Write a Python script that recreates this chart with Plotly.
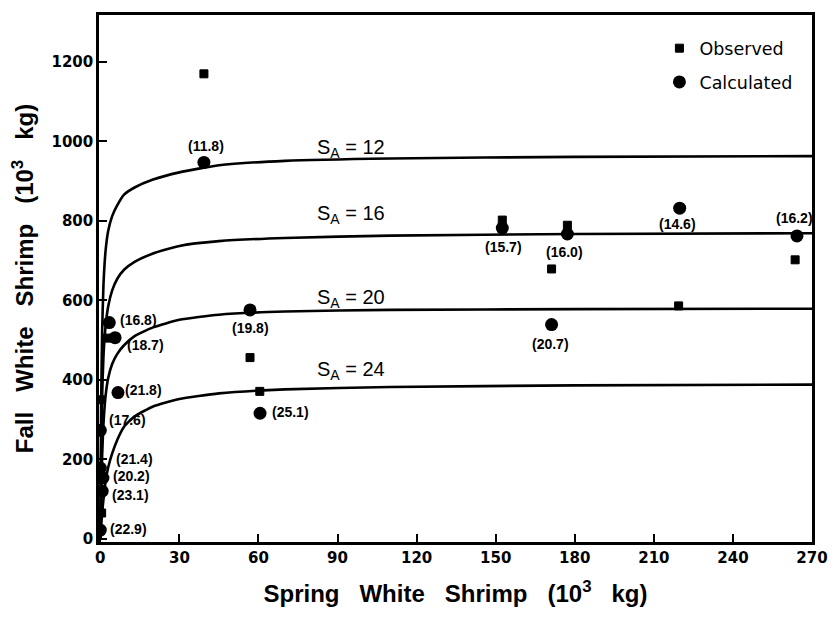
import plotly.graph_objects as go

# ---- data ----
obs_x = [39.3, 152.5, 177.2, 171.2, 263.6, 219.4, 56.8, 60.5, 2.5, 0.0, 0.5, 0.5]
obs_y = [1170, 802, 789, 679, 702, 586, 456, 371, 505, 350, 150, 65]

calc_x = [39.3, 56.8, 60.6, 152.5, 177.2, 171.2, 219.8, 264.3,
          3.4, 5.6, 6.7, 0.0, 0.0, 1.0, 0.7, 0.0]
calc_y = [947, 576, 316, 782, 767, 539, 832, 762,
          544, 506, 368, 273, 178, 153, 120, 22]
calc_lbl = ["(11.8)", "(19.8)", "(25.1)", "(15.7)", "(16.0)", "(20.7)", "(14.6)", "(16.2)",
            "(16.8)", "(18.7)", "(21.8)", "(17.6)", "(21.4)", "(20.2)", "(23.1)", "(22.9)"]

curve_x = [0, 0.3, 0.7, 1.2, 2, 3, 4.5, 6.5, 9, 13, 20, 30, 45, 70, 110, 180, 270]
SA12 = [0, 330, 524, 640, 725, 775, 812, 840, 866, 884, 904, 922, 940, 951, 957, 961, 963]
SA16 = [0, 200, 360, 460, 535, 585, 625, 655, 677, 697, 718, 737, 749, 757, 763, 767, 769]
SA20 = [0, 100, 210, 290, 360, 405, 440, 466, 487, 510, 532, 551, 564, 572, 576, 578, 579]
SA24 = [0, 30, 65, 100, 145, 180, 215, 250, 282, 308, 333, 352, 366, 376, 382, 386, 388]
curve_names = ["12", "16", "20", "24"]

x_ticks = [0, 30, 60, 90, 120, 150, 180, 210, 240, 270]
y_ticks = [0, 200, 400, 600, 800, 1000, 1200]

# ---- styling: label offsets from each calculated point, in pixels (dx, dy up) ----
label_shift = [(2, 16), (0, -18), (30, 1), (1, -19), (-3, -18), (-1, -19), (-2, -16), (-2, 18),
               (29, 3), (30, -7), (26, 3), (27, 10), (34, 9), (29, 2), (28, -4), (28, 1)]
curve_label_y = [982, 817, 604, 424]

NBSP = "\u00a0"
GAP = NBSP * 3

fig = go.Figure()

for ys in (SA12, SA16, SA20, SA24):
    fig.add_trace(go.Scatter(x=curve_x, y=ys, mode="lines", showlegend=False,
                             line=dict(color="black", width=2.6, shape="spline", smoothing=0.5),
                             hoverinfo="skip"))

fig.add_trace(go.Scatter(x=calc_x, y=calc_y, mode="markers", name="Calculated",
                         legendgroup="calc", legendrank=2,
                         marker=dict(symbol="circle", size=13, color="black")))
fig.add_trace(go.Scatter(x=obs_x, y=obs_y, mode="markers", name="Observed",
                         legendgroup="obs", legendrank=1,
                         marker=dict(symbol="square", size=8, color="black",
                                     line=dict(color="black", width=1))))

for xv, yv, t, (dx, dy) in zip(calc_x, calc_y, calc_lbl, label_shift):
    fig.add_annotation(x=xv, y=yv, text=t, showarrow=False, xshift=dx, yshift=dy,
                       xanchor="center", yanchor="middle",
                       font=dict(family="Liberation Sans", size=14, color="black", weight="bold"))

for name, yy in zip(curve_names, curve_label_y):
    fig.add_annotation(x=81.5, y=yy, xanchor="left", yanchor="middle", showarrow=False,
                       text="S<sub>A</sub> = " + name,
                       font=dict(family="Liberation Sans", size=20, color="black"))

axis_common = dict(showline=True, linecolor="black", linewidth=2.5, mirror=True,
                   ticks="inside", ticklen=8, tickwidth=2, tickcolor="black",
                   showgrid=False, zeroline=False,
                   tickfont=dict(family="DejaVu Sans", size=15, color="black", weight="bold"))

fig.update_xaxes(range=[-0.5, 270], tickvals=x_ticks, **axis_common,
                 title=dict(text=("Spring" + GAP + "White" + GAP + "Shrimp" + GAP +
                                  "(10<sup>3</sup>" + GAP + "kg)"),
                            font=dict(family="Liberation Sans", size=24, color="black", weight="bold"),
                            standoff=20))
fig.update_yaxes(range=[-8, 1318], tickvals=y_ticks, **axis_common,
                 title=dict(text=("Fall" + GAP + "White" + GAP + "Shrimp" + GAP +
                                  "(10<sup>3</sup>" + GAP + "kg)"),
                            font=dict(family="Liberation Sans", size=24, color="black", weight="bold"),
                            standoff=12))

fig.update_layout(width=840, height=619, paper_bgcolor="white", plot_bgcolor="white",
                  margin=dict(l=99, r=18, t=13, b=77),
                  legend=dict(x=0.786, y=0.971, xanchor="left", yanchor="top",
                              bgcolor="rgba(0,0,0,0)", tracegroupgap=8,
                              font=dict(family="DejaVu Sans", size=17.5, color="black")),
                  showlegend=True)

fig.write_html("out.html")
